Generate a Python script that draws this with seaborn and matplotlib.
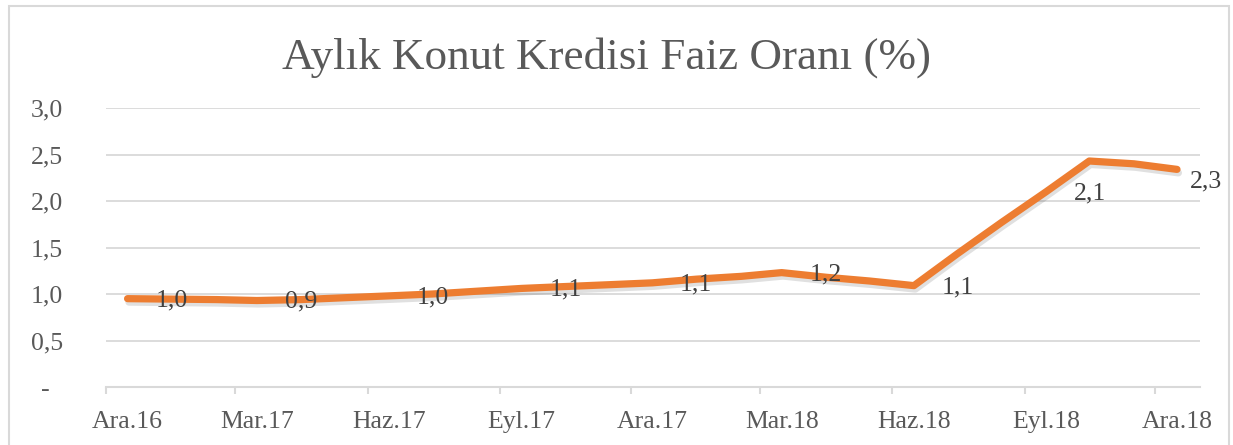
import numpy as np
import pandas as pd
import matplotlib
matplotlib.use("Agg")
import matplotlib.pyplot as plt
import matplotlib.patheffects as pe
from matplotlib.patches import Rectangle
import seaborn as sns

# aylik veri, Ara.16 - Ara.18
values = [0.95, 0.945, 0.94, 0.93, 0.94, 0.96, 0.98, 1.00, 1.03, 1.06, 1.08, 1.10,
          1.12, 1.16, 1.19, 1.23, 1.18, 1.14, 1.09, 1.43, 1.77, 2.10, 2.43, 2.40, 2.34]
xtick_labels = ["Ara.16", "Mar.17", "Haz.17", "Eyl.17", "Ara.17",
                "Mar.18", "Haz.18", "Eyl.18", "Ara.18"]
point_labels = ["1,0", "0,9", "1,0", "1,1", "1,1", "1,2", "1,1", "2,1", "2,3"]
ytick_labels = ["-  ", "0,5", "1,0", "1,5", "2,0", "2,5", "3,0"]
title = "Aylık Konut Kredisi Faiz Oranı (%)"

mid = pd.Timedelta(days=15)
dates = pd.date_range("2016-12-01", periods=len(values), freq="MS") + mid
tick_dates = pd.date_range("2016-12-01", "2018-12-01", freq="3MS")
df = pd.DataFrame({"tarih": dates, "oran": values})

sns.set_theme(style="white")
plt.rcParams["font.family"] = ["Liberation Serif", "DejaVu Serif"]

fig, ax = plt.subplots(figsize=(12.33, 4.45), dpi=100)
ax.set_position([106 / 1233, 58 / 445, 1094 / 1233, 279 / 445])

sns.lineplot(data=df, x="tarih", y="oran", ax=ax, color="#ED7D31", linewidth=5.2)
line = ax.lines[0]
line.set_solid_capstyle("round")
line.set_solid_joinstyle("round")
line.set_path_effects([pe.SimpleLineShadow(offset=(1, -2.5), shadow_color="black", alpha=0.12),
                       pe.Normal()])

ax.set_ylim(0, 3)
ax.set_yticks(np.arange(0, 3.01, 0.5))
ax.set_yticklabels(ytick_labels)
ax.set_xlim(pd.Timestamp("2016-12-01"), pd.Timestamp("2019-01-01"))
# tick marks at month start, labels centred on the month
ax.set_xticks(tick_dates)
ax.set_xticklabels([])
ax.set_xticks(tick_dates + mid, minor=True)
ax.set_xticklabels(xtick_labels, minor=True)
ax.set_xlabel("")
ax.set_ylabel("")

ax.grid(axis="y", color="#d9d9d9", linewidth=1.3)
ax.grid(axis="x", visible=False)
ax.set_axisbelow(True)
for s in ["left", "top", "right"]:
    ax.spines[s].set_visible(False)
ax.spines["bottom"].set_color("#d9d9d9")
ax.spines["bottom"].set_linewidth(1.5)

ax.tick_params(axis="x", which="major", bottom=True, length=5, width=1.5, color="#d9d9d9")
ax.tick_params(axis="x", which="minor", bottom=True, length=0, pad=17,
               labelsize=18.5, labelcolor="#595959")
ax.tick_params(axis="y", left=False, length=0, pad=31, labelsize=18.5, labelcolor="#595959")

last = len(point_labels) - 1
for k, (i, txt) in enumerate(zip(range(0, len(values), 3), point_labels)):
    off = (20, -1) if k < last else (9, -9)
    ax.annotate(txt, (dates[i], values[i]), xytext=off, textcoords="offset points",
                ha="left", va="center", fontsize=18.5, color="#404040")

fig.text(0.4915, 1 - 58 / 445, title, ha="center", va="center", fontsize=32.5, color="#595959")

fig.patches.append(Rectangle((9 / 1233, -0.1), 1220 / 1233, 1.0865, transform=fig.transFigure,
                             fill=False, edgecolor="#d9d9d9", linewidth=1.5))

fig.savefig("out.png", dpi=100)
